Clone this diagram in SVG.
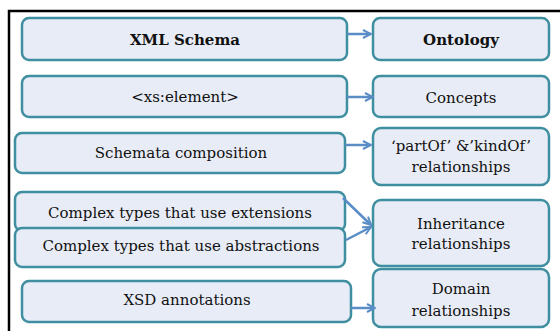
<svg xmlns="http://www.w3.org/2000/svg" width="560" height="331" viewBox="0 0 560 331">
  <defs>
    <style>
      .box { fill: #E8ECF6; stroke: #3F8FA0; stroke-width: 2.5; }
      .lbl { font-family: "DejaVu Serif", "Liberation Serif", serif; font-size: 15px; fill: #111; text-anchor: middle; }
      .bold { font-weight: bold; }
      .conn { stroke: #5A8CC6; stroke-width: 2.5; fill: none; }
    </style>
    <marker id="arrow" viewBox="0 0 10 10" refX="9" refY="5" markerWidth="4" markerHeight="4" orient="auto" markerUnits="strokeWidth">
      <path d="M1,1 L9,5 L1,9" fill="none" stroke="#5A8CC6" stroke-width="2"/>
    </marker>
  </defs>

  <!-- frame -->
  <path d="M9,331 V11 H560" fill="none" stroke="#000" stroke-width="2.5"/>

  <!-- source side -->
  <g id="xml-schema">
    <rect class="box" x="22" y="18" width="325" height="42" rx="7"/>
    <text class="lbl bold" x="185" y="45">XML Schema</text>
  </g>
  <g id="xs-element">
    <rect class="box" x="22" y="76" width="325" height="41" rx="7"/>
    <text class="lbl" x="185" y="102">&lt;xs:element&gt;</text>
  </g>
  <g id="schemata-composition">
    <rect class="box" x="15" y="133" width="330" height="40" rx="7"/>
    <text class="lbl" x="181" y="158">Schemata composition</text>
  </g>
  <g id="complex-extensions">
    <rect class="box" x="15" y="192" width="330" height="39" rx="7"/>
    <text class="lbl" x="180" y="218">Complex types that use extensions</text>
  </g>
  <g id="complex-abstractions">
    <rect class="box" x="15" y="228" width="330" height="39" rx="7"/>
    <text class="lbl" x="181" y="251">Complex types that use abstractions</text>
  </g>
  <g id="xsd-annotations">
    <rect class="box" x="22" y="281" width="329" height="41" rx="7"/>
    <text class="lbl" x="187" y="305">XSD annotations</text>
  </g>

  <!-- ontology side -->
  <g id="ontology">
    <rect class="box" x="373" y="18" width="176" height="42" rx="7"/>
    <text class="lbl bold" x="461" y="45">Ontology</text>
  </g>
  <g id="concepts">
    <rect class="box" x="373" y="76" width="176" height="41" rx="7"/>
    <text class="lbl" x="461" y="103">Concepts</text>
  </g>
  <g id="partof-kindof">
    <rect class="box" x="373" y="128" width="176" height="57" rx="8"/>
    <text class="lbl" x="461" y="151">‘partOf’ &amp;’kindOf’</text>
    <text class="lbl" x="461" y="172">relationships</text>
  </g>
  <g id="inheritance">
    <rect class="box" x="373" y="200" width="176" height="66" rx="8"/>
    <text class="lbl" x="461" y="229">Inheritance</text>
    <text class="lbl" x="461" y="249">relationships</text>
  </g>
  <g id="domain">
    <rect class="box" x="373" y="269" width="176" height="58" rx="8"/>
    <text class="lbl" x="461" y="294">Domain</text>
    <text class="lbl" x="461" y="316">relationships</text>
  </g>

  <!-- connectors -->
  <g id="connectors">
    <line class="conn" x1="347" y1="34" x2="371" y2="34" marker-end="url(#arrow)"/>
    <line class="conn" x1="347" y1="97" x2="373" y2="97" marker-end="url(#arrow)"/>
    <line class="conn" x1="345" y1="145" x2="371" y2="145" marker-end="url(#arrow)"/>
    <line class="conn" x1="343" y1="198" x2="371" y2="225" marker-end="url(#arrow)"/>
    <line class="conn" x1="346" y1="240" x2="371" y2="227" marker-end="url(#arrow)"/>
    <line class="conn" x1="351" y1="308" x2="375" y2="308" marker-end="url(#arrow)"/>
  </g>
</svg>
